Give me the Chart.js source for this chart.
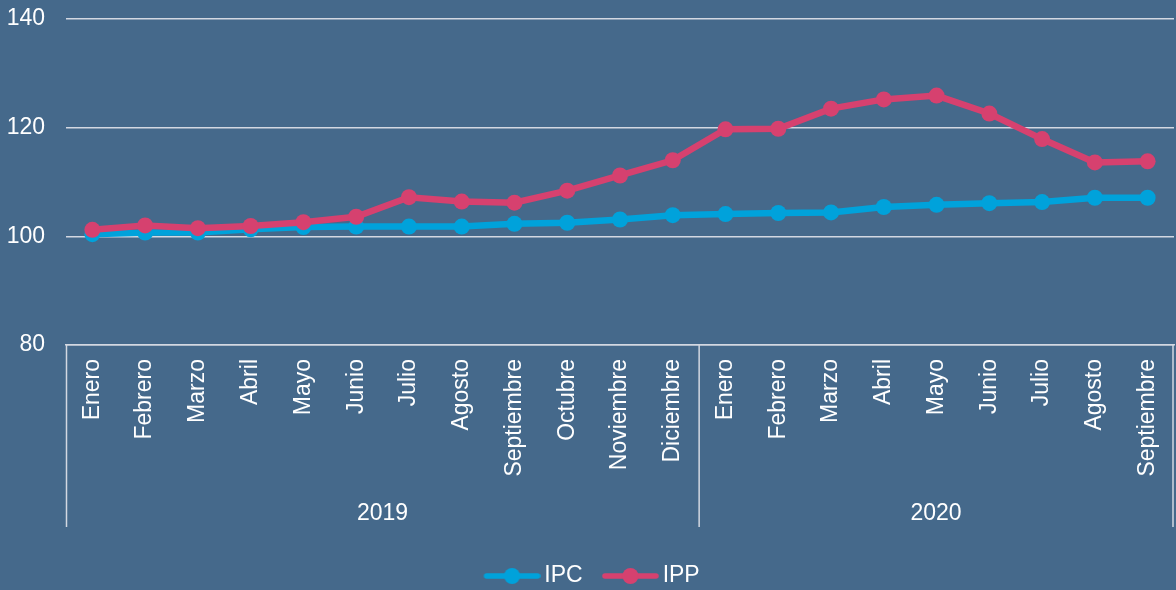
<!DOCTYPE html>
<html>
<head>
<meta charset="utf-8">
<script src="https://cdn.jsdelivr.net/npm/chart.js@4"></script>
<style>
  html, body { margin: 0; padding: 0; background: #45698b; }
  #wrap { width: 1176px; height: 590px; }
</style>
</head>
<body>
<div id="wrap"><canvas id="grafico"></canvas></div>
<script>
var meses = ["Enero", "Febrero", "Marzo", "Abril", "Mayo", "Junio", "Julio", "Agosto", "Septiembre", "Octubre", "Noviembre", "Diciembre",
             "Enero", "Febrero", "Marzo", "Abril", "Mayo", "Junio", "Julio", "Agosto", "Septiembre"];
var anos = ["2019", "2020"];
var mesesPorAno = [12, 9];

var ipc = [100.4, 100.7, 100.7, 101.3, 101.7, 101.8, 101.8, 101.8, 102.3, 102.5, 103.1, 103.9,
           104.1, 104.3, 104.4, 105.4, 105.8, 106.1, 106.3, 107.1, 107.1];
var ipp = [101.2, 102.0, 101.5, 101.9, 102.6, 103.6, 107.2, 106.4, 106.2, 108.4, 111.2, 114.0,
           119.7, 119.8, 123.5, 125.2, 125.9, 122.6, 117.9, 113.6, 113.8];

var yMin = 80;
var yMax = 140;
var yPaso = 20;

var corIPC = "#00a2db";
var corIPP = "#d6416f";
var corGrade = "#d3d8e2";
var fonte = { family: "Liberation Sans, Arial", size: 23 };

// icone da legenda: linha com bolinha no meio (deslocada p/ esquerda)
function icone(cor) {
  var c = document.createElement("canvas");
  c.width = 74;
  c.height = 18;
  var g = c.getContext("2d");
  g.strokeStyle = cor;
  g.lineWidth = 5.5;
  g.lineCap = "round";
  g.beginPath();
  g.moveTo(20, 9);
  g.lineTo(71, 9);
  g.stroke();
  g.fillStyle = cor;
  g.beginPath();
  g.arc(45.5, 9, 8, 0, Math.PI * 2);
  g.fill();
  return c;
}

// anos embaixo dos meses, com as divisorias
var anosPlugin = {
  id: "anos",
  afterDraw: function (chart) {
    var x = chart.scales.x;
    var ctx = chart.ctx;
    var fundo = x.top + 182;
    ctx.save();
    ctx.strokeStyle = corGrade;
    ctx.lineWidth = 1.5;
    ctx.fillStyle = "white";
    ctx.font = fonte.size + "px " + fonte.family;
    ctx.textAlign = "center";
    ctx.textBaseline = "middle";

    var inicio = 0;
    var esquerda = x.left;
    for (var i = 0; i < anos.length; i++) {
      var fim = inicio + mesesPorAno[i];
      var direita = fim < meses.length ? (x.getPixelForValue(fim - 1) + x.getPixelForValue(fim)) / 2 : x.right - 1;
      if (i == 0) {
        ctx.beginPath();
        ctx.moveTo(esquerda + 0.5, x.top);
        ctx.lineTo(esquerda + 0.5, fundo);
        ctx.stroke();
      }
      ctx.beginPath();
      ctx.moveTo(direita, x.top);
      ctx.lineTo(direita, fundo);
      ctx.stroke();
      ctx.fillText(anos[i], (esquerda + direita) / 2, x.top + 169);
      esquerda = direita;
      inicio = fim;
    }
    ctx.restore();
  }
};

var ctxGrafico = document.getElementById("grafico");

new Chart(ctxGrafico, {
  type: "line",
  data: {
    labels: meses,
    datasets: [
      {
        label: "IPC",
        data: ipc,
        borderColor: corIPC,
        backgroundColor: corIPC,
        borderWidth: 6.5,
        pointRadius: 8,
        pointBorderWidth: 0,
        pointBackgroundColor: corIPC,
        order: 2
      },
      {
        label: "IPP",
        data: ipp,
        borderColor: corIPP,
        backgroundColor: corIPP,
        borderWidth: 6.5,
        pointRadius: 8,
        pointBorderWidth: 0,
        pointBackgroundColor: corIPP,
        order: 1
      }
    ]
  },
  options: {
    responsive: true,
    maintainAspectRatio: false,
    animation: false,
    layout: {
      autoPadding: false,
      padding: { top: 19, right: 2, left: 0, bottom: -7.5 }
    },
    scales: {
      x: {
        offset: true,
        grid: { display: false, drawTicks: true, tickLength: 14 },
        border: { display: true, color: corGrade, width: 1.5 },
        ticks: {
          color: "white",
          font: { family: fonte.family, size: fonte.size, lineHeight: 1 },
          maxRotation: 90,
          minRotation: 90,
          autoSkip: false,
          padding: 0
        },
        afterFit: function (scale) {
          scale.height = 209.5;
        }
      },
      y: {
        min: yMin,
        max: yMax,
        grid: { color: corGrade, lineWidth: 1.5, drawTicks: false },
        border: { display: false },
        ticks: {
          stepSize: yPaso,
          color: "white",
          font: fonte,
          padding: 21
        },
        afterFit: function (scale) {
          scale.width = 66;
          scale.paddingTop = 0;
          scale.paddingBottom = 0;
        }
      }
    },
    plugins: {
      legend: {
        display: true,
        position: "bottom",
        labels: {
          color: "white",
          font: fonte,
          usePointStyle: true,
          pointStyleWidth: 58.5,
          padding: 10,
          sort: function (a, b) { return a.datasetIndex - b.datasetIndex; },
          generateLabels: function (chart) {
            var itens = Chart.defaults.plugins.legend.labels.generateLabels(chart);
            itens.forEach(function (item) {
              item.pointStyle = icone(item.datasetIndex == 0 ? corIPC : corIPP);
            });
            return itens;
          }
        }
      },
      tooltip: { enabled: false }
    }
  },
  plugins: [anosPlugin]
});
</script>
</body>
</html>
